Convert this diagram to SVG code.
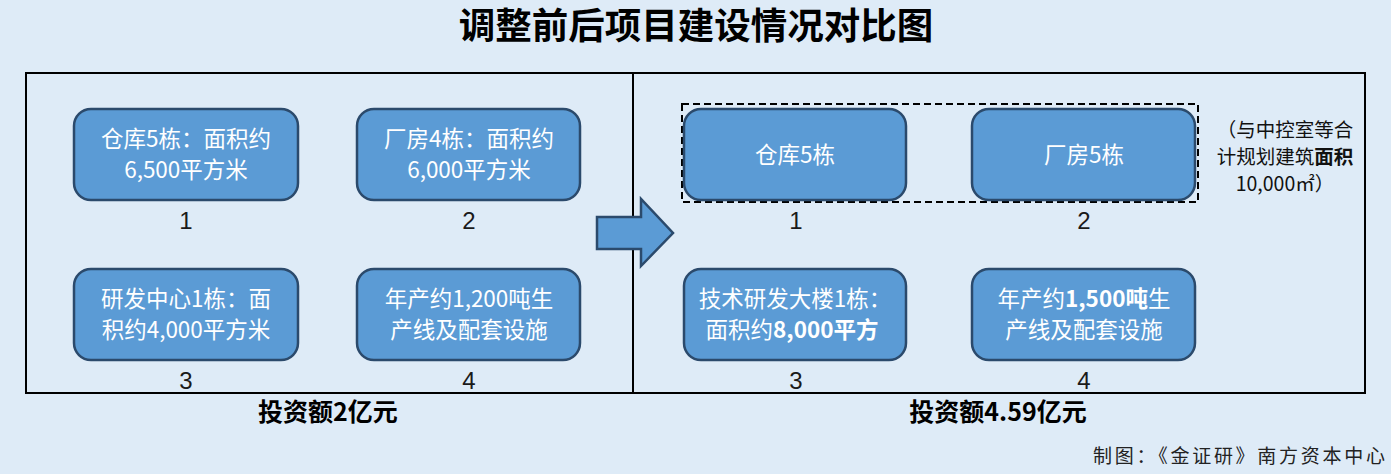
<svg xmlns="http://www.w3.org/2000/svg" width="1391" height="474" viewBox="0 0 1391 474">
<style>
.bg{fill:#deebf7}
.box{fill:#5b9bd5;stroke:#2b4a6c;stroke-width:2.5}
.bt{fill:#ffffff;font-family:"Noto Sans CJK SC","Liberation Sans",sans-serif;font-size:22.5px;text-anchor:middle}
.num{fill:#1a1a1a;font-family:"Liberation Sans","Noto Sans CJK SC",sans-serif;font-size:24px;text-anchor:middle}
.b{font-weight:bold}
.cap{fill:#000;font-family:"Noto Sans CJK SC",sans-serif;font-size:25px;font-weight:bold;text-anchor:middle}
.note{fill:#111;font-family:"Noto Sans CJK SC",sans-serif;font-size:19.5px;text-anchor:middle}
.frame{fill:none;stroke:#000;stroke-width:2}
</style>
<rect class="bg" x="0" y="0" width="1391" height="474"/>
<text x="696" y="39" fill="#000" font-family="'Noto Sans CJK SC',sans-serif" font-size="36.5" font-weight="bold" text-anchor="middle">调整前后项目建设情况对比图</text>
<g id="frame">
<rect class="frame" x="26" y="73" width="1339" height="320"/>
<line x1="633" y1="73" x2="633" y2="393" stroke="#000" stroke-width="2"/>
</g>
<g id="connectors">
<polygon points="597,217 641,217 641,199 673,233 641,266 641,249 597,249" fill="#5b9bd5" stroke="#2b4a6c" stroke-width="2.5" stroke-linejoin="miter"/>
</g>
<g id="group-dashed">
<rect x="682" y="104" width="516" height="98" fill="none" stroke="#000" stroke-width="2" stroke-dasharray="7,4"/>
</g>
<g id="L1">
<rect class="box" x="74" y="109" width="224" height="91" rx="17"/>
<text class="bt" x="186" y="147">仓库5栋：面积约</text>
<text class="bt" x="186" y="178">6,500平方米</text>
<text class="num" x="186" y="229">1</text>
</g>
<g id="L2">
<rect class="box" x="357" y="109" width="223" height="91" rx="17"/>
<text class="bt" x="469" y="147">厂房4栋：面积约</text>
<text class="bt" x="469" y="178">6,000平方米</text>
<text class="num" x="469" y="229">2</text>
</g>
<g id="L3">
<rect class="box" x="74" y="269" width="224" height="91" rx="17"/>
<text class="bt" x="186" y="307">研发中心1栋：面</text>
<text class="bt" x="186" y="338">积约4,000平方米</text>
<text class="num" x="186" y="389">3</text>
</g>
<g id="L4">
<rect class="box" x="357" y="269" width="223" height="91" rx="17"/>
<text class="bt" x="469" y="307">年产约1,200吨生</text>
<text class="bt" x="469" y="338">产线及配套设施</text>
<text class="num" x="469" y="389">4</text>
</g>
<g id="R1">
<rect class="box" x="684" y="109" width="222" height="91" rx="17"/>
<text class="bt" x="795" y="163">仓库5栋</text>
<text class="num" x="796" y="229">1</text>
</g>
<g id="R2">
<rect class="box" x="972" y="109" width="223" height="91" rx="17"/>
<text class="bt" x="1084" y="163">厂房5栋</text>
<text class="num" x="1084" y="229">2</text>
</g>
<g id="R3">
<rect class="box" x="684" y="269" width="222" height="91" rx="17"/>
<text class="bt" x="795" y="307">技术研发大楼1栋：</text>
<text class="bt" x="792" y="338">面积约<tspan class="b">8,000平方</tspan></text>
<text class="num" x="796" y="389">3</text>
</g>
<g id="R4">
<rect class="box" x="972" y="269" width="223" height="91" rx="17"/>
<text class="bt" x="1084" y="307">年产约<tspan class="b">1,500吨</tspan>生</text>
<text class="bt" x="1084" y="338">产线及配套设施</text>
<text class="num" x="1084" y="389">4</text>
</g>
<g id="note">
<text class="note" x="1285" y="137">（与中控室等合</text>
<text class="note" x="1285" y="164">计规划建筑<tspan font-weight="bold">面积</tspan></text>
<text class="note" x="1285" y="191">10,000㎡）</text>
</g>
<text class="cap" x="328" y="421">投资额2亿元</text>
<text class="cap" x="998" y="421">投资额4.59亿元</text>
<text x="1093" y="463" fill="#222" font-family="'Noto Sans CJK SC',sans-serif" font-size="19" textLength="292" lengthAdjust="spacing">制图：《金证研》南方资本中心</text>
</svg>
